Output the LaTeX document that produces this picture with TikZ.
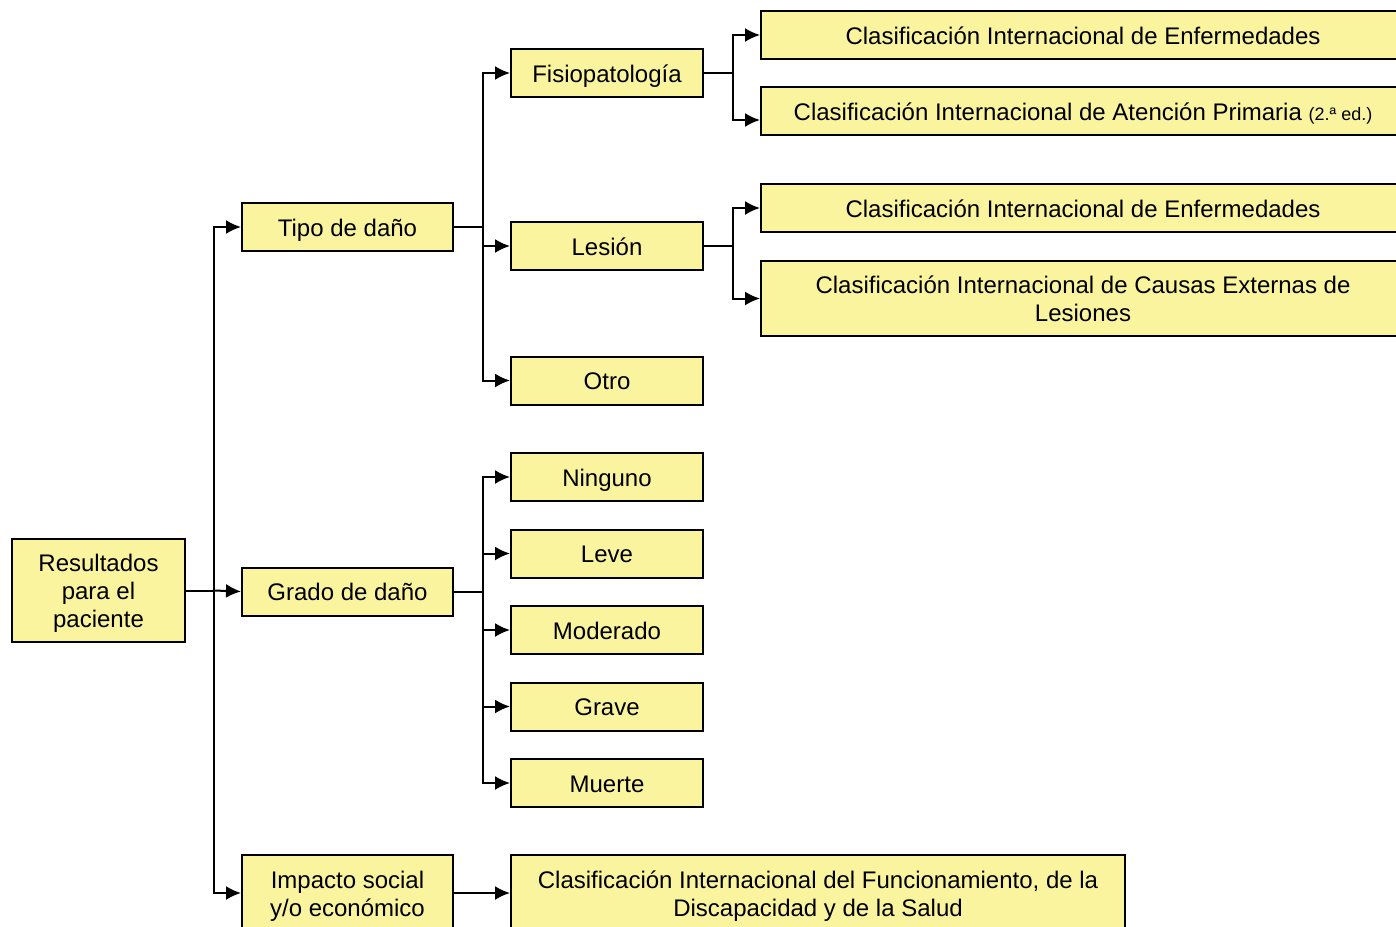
\documentclass[tikz,border=0pt]{standalone}
\usepackage{fontspec}
\setmainfont{Liberation Sans}
\usetikzlibrary{positioning, shapes, arrows.meta}

\definecolor{boxyellow}{RGB}{250,244,158}
\newcommand{\firststrut}{\rule{0pt}{11.8pt}}

\tikzset{
	box/.style={rectangle, draw, line width=1pt, fill=boxyellow, align=center, inner sep=0pt,
		font=\fontsize{12}{14}\selectfont},
	oneline/.style={box, text height=11pt, text depth=2pt},
	mid/.style={oneline, minimum width=105.5pt, minimum height=24pt},
	leaf/.style={oneline, minimum width=96pt, minimum height=24pt},
	longbox/.style={oneline, minimum width=322pt, minimum height=24pt},
	link/.style={line width=1pt},
	linkarrow/.style={line width=1pt, -{Latex[length=7.5pt,width=7pt]}}
}

\begin{document}
\begin{tikzpicture}[x=0.5pt, y=-0.5pt]
		\useasboundingbox (0,0) rectangle (1396,926);
		% root
		\node (res) [box, minimum width=86.5pt, minimum height=51.5pt] at (98.5,590.5) {\firststrut Resultados\\para el\\paciente};
		% second level
		\node (tipo) [mid] at (347.5,227) {Tipo de daño};
		\node (grado) [mid] at (347.5,591.5) {Grado de daño};
		\node (impacto) [box, minimum width=105.5pt, minimum height=38pt] at (347.5,893) {\firststrut Impacto social\\y/o económico};
		% tipo de dano
		\node (fisio) [leaf] at (607,73) {Fisiopatología};
		\node (lesion) [leaf] at (607,246) {Lesión};
		\node (otro) [leaf] at (607,380.5) {Otro};
		% grado de dano
		\node (ninguno) [leaf] at (607,477) {Ninguno};
		\node (leve) [leaf, below=13.25pt of ninguno] {Leve};
		\node (moderado) [leaf, below=13.25pt of leve] {Moderado};
		\node (grave) [leaf, below=13.25pt of moderado] {Grave};
		\node (muerte) [leaf, below=13.25pt of grave] {Muerte};
		% classifications
		\node (cieuno) [longbox] at (1083,35) {Clasificación Internacional de Enfermedades};
		\node (ciap) [longbox] at (1083,111) {Clasificación Internacional de Atención Primaria {\fontsize{9}{10}\selectfont(2.ª ed.)}};
		\node (ciedos) [longbox] at (1083,208) {Clasificación Internacional de Enfermedades};
		\node (ciece) [box, minimum width=322pt, minimum height=37.5pt] at (1083,298.5) {Clasificación Internacional de Causas Externas de\\Lesiones};
		\node (cif) [box, minimum width=307pt, minimum height=38pt] at (818,893) {\firststrut Clasificación Internacional del Funcionamiento, de la\\Discapacidad y de la Salud};

		% connectors
		\draw[link] (res.east) -- ++(14pt,0) coordinate (resjoin);
		\draw[linkarrow] (resjoin) |- (tipo.west);
		\draw[linkarrow] (resjoin) -- (grado.west);
		\draw[linkarrow] (resjoin) |- (impacto.west);

		\draw[link] (tipo.east) -- ++(14.5pt,0) coordinate (tipojoin);
		\draw[linkarrow] (tipojoin) |- (fisio.west);
		\draw[linkarrow] (tipojoin) |- (lesion.west);
		\draw[linkarrow] (tipojoin) |- (otro.west);

		\draw[link] (grado.east) -- ++(14.5pt,0) coordinate (gradojoin);
		\foreach \g in {ninguno, leve, moderado, grave, muerte}
			\draw[linkarrow] (gradojoin) |- (\g.west);

		\draw[link] (fisio.east) -- ++(14.5pt,0) coordinate (fisiojoin);
		\draw[linkarrow] (fisiojoin) |- (cieuno.west);
		\draw[linkarrow] (fisiojoin) |- ([yshift=-4.5pt]ciap.west);

		\draw[link] (lesion.east) -- ++(14.5pt,0) coordinate (lesionjoin);
		\draw[linkarrow] (lesionjoin) |- (ciedos.west);
		\draw[linkarrow] (lesionjoin) |- (ciece.west);

		\draw[linkarrow] (impacto.east) -- (cif.west);
\end{tikzpicture}
\end{document}
